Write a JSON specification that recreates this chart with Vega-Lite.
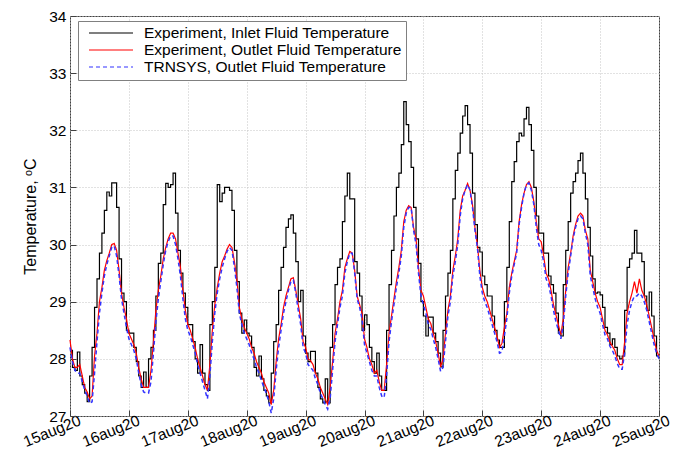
{
  "$schema": "https://vega.github.io/schema/vega-lite/v6.json",
  "width": 589,
  "height": 400,
  "autosize": {"type": "none"},
  "padding": {"left": 70, "top": 16, "right": 22, "bottom": 42},
  "background": "white",
  "config": {
    "view": {"stroke": "#404040", "strokeWidth": 1},
    "font": "Liberation Sans",
    "axis": {
      "labelFont": "Liberation Sans", "titleFont": "Liberation Sans",
      "labelColor": "#000", "titleColor": "#000",
      "domain": false, "grid": true, "gridColor": "#c4c4c4", "gridDash": [1, 2], "gridWidth": 1,
      "ticks": true, "tickSize": -6, "tickColor": "#404040"
    }
  },
  "data": {"values": [
{"h":0,"i":28.15,"o":28.33,"t":28.2},
{"h":1,"i":27.85,"o":28.0,"t":27.95},
{"h":2,"i":27.8,"o":27.85,"t":27.8},
{"h":3,"i":28.12,"o":27.85,"t":27.75},
{"h":4,"i":27.7,"o":27.9,"t":27.75},
{"h":5,"i":27.55,"o":27.7,"t":27.6},
{"h":6,"i":27.4,"o":27.5,"t":27.45},
{"h":7,"i":27.25,"o":27.42,"t":27.35},
{"h":8,"i":27.7,"o":27.3,"t":27.22},
{"h":9,"i":28.2,"o":27.35,"t":27.25},
{"h":10,"i":28.9,"o":28.05,"t":27.75},
{"h":11,"i":29.4,"o":28.45,"t":28.3},
{"h":12,"i":29.85,"o":29.0,"t":28.8},
{"h":13,"i":30.2,"o":29.25,"t":29.15},
{"h":14,"i":30.6,"o":29.55,"t":29.45},
{"h":15,"i":30.92,"o":29.72,"t":29.65},
{"h":16,"i":30.85,"o":29.85,"t":29.8},
{"h":17,"i":31.08,"o":30.0,"t":29.95},
{"h":18,"i":31.08,"o":30.02,"t":29.98},
{"h":19,"i":30.65,"o":29.9,"t":29.8},
{"h":20,"i":29.75,"o":29.55,"t":29.45},
{"h":21,"i":29.15,"o":29.15,"t":29.05},
{"h":22,"i":29.0,"o":28.9,"t":28.8},
{"h":23,"i":28.5,"o":28.7,"t":28.55},
{"h":24,"i":28.45,"o":28.45,"t":28.35},
{"h":25,"i":28.45,"o":28.35,"t":28.25},
{"h":26,"i":28.2,"o":28.25,"t":28.15},
{"h":27,"i":27.95,"o":28.1,"t":28.0},
{"h":28,"i":27.7,"o":27.85,"t":27.75},
{"h":29,"i":27.5,"o":27.65,"t":27.55},
{"h":30,"i":27.77,"o":27.5,"t":27.42},
{"h":31,"i":27.5,"o":27.5,"t":27.4},
{"h":32,"i":28.0,"o":27.5,"t":27.4},
{"h":33,"i":28.2,"o":27.8,"t":27.6},
{"h":34,"i":28.5,"o":28.3,"t":28.1},
{"h":35,"i":29.1,"o":28.85,"t":28.65},
{"h":36,"i":29.67,"o":29.2,"t":29.05},
{"h":37,"i":29.85,"o":29.45,"t":29.35},
{"h":38,"i":30.7,"o":29.75,"t":29.65},
{"h":39,"i":31.07,"o":29.95,"t":29.9},
{"h":40,"i":31.0,"o":30.1,"t":30.05},
{"h":41,"i":31.05,"o":30.2,"t":30.15},
{"h":42,"i":31.25,"o":30.2,"t":30.15},
{"h":43,"i":30.55,"o":30.1,"t":30.0},
{"h":44,"i":29.9,"o":29.85,"t":29.75},
{"h":45,"i":29.5,"o":29.6,"t":29.45},
{"h":46,"i":29.15,"o":29.2,"t":29.05},
{"h":47,"i":28.9,"o":28.85,"t":28.7},
{"h":48,"i":28.6,"o":28.6,"t":28.5},
{"h":49,"i":28.6,"o":28.5,"t":28.4},
{"h":50,"i":28.3,"o":28.35,"t":28.25},
{"h":51,"i":28.0,"o":28.2,"t":28.1},
{"h":52,"i":27.75,"o":28.0,"t":27.9},
{"h":53,"i":28.25,"o":27.85,"t":27.75},
{"h":54,"i":27.75,"o":27.7,"t":27.6},
{"h":55,"i":27.55,"o":27.55,"t":27.45},
{"h":56,"i":27.45,"o":27.45,"t":27.3},
{"h":57,"i":28.6,"o":27.9,"t":27.7},
{"h":58,"i":29.0,"o":28.5,"t":28.3},
{"h":59,"i":29.6,"o":28.95,"t":28.8},
{"h":60,"i":31.05,"o":29.25,"t":29.15},
{"h":61,"i":30.75,"o":29.5,"t":29.4},
{"h":62,"i":30.9,"o":29.7,"t":29.6},
{"h":63,"i":31.0,"o":29.8,"t":29.75},
{"h":64,"i":31.0,"o":29.92,"t":29.88},
{"h":65,"i":30.95,"o":30.0,"t":29.95},
{"h":66,"i":30.6,"o":29.95,"t":29.9},
{"h":67,"i":29.9,"o":29.7,"t":29.6},
{"h":68,"i":29.35,"o":29.4,"t":29.25},
{"h":69,"i":28.8,"o":28.9,"t":28.8},
{"h":70,"i":28.45,"o":28.7,"t":28.6},
{"h":71,"i":28.68,"o":28.55,"t":28.45},
{"h":72,"i":28.45,"o":28.45,"t":28.35},
{"h":73,"i":28.4,"o":28.35,"t":28.25},
{"h":74,"i":28.2,"o":28.2,"t":28.1},
{"h":75,"i":27.85,"o":28.1,"t":28.0},
{"h":76,"i":27.7,"o":27.95,"t":27.85},
{"h":77,"i":28.05,"o":27.85,"t":27.75},
{"h":78,"i":27.65,"o":27.75,"t":27.62},
{"h":79,"i":27.45,"o":27.6,"t":27.5},
{"h":80,"i":27.35,"o":27.5,"t":27.4},
{"h":81,"i":27.23,"o":27.4,"t":27.25},
{"h":82,"i":27.75,"o":27.2,"t":27.05},
{"h":83,"i":28.3,"o":27.45,"t":27.3},
{"h":84,"i":28.6,"o":27.95,"t":27.8},
{"h":85,"i":29.2,"o":28.35,"t":28.2},
{"h":86,"i":29.6,"o":28.6,"t":28.5},
{"h":87,"i":29.95,"o":28.9,"t":28.8},
{"h":88,"i":30.3,"o":29.1,"t":29.0},
{"h":89,"i":30.45,"o":29.25,"t":29.2},
{"h":90,"i":30.52,"o":29.4,"t":29.35},
{"h":91,"i":30.2,"o":29.42,"t":29.38},
{"h":92,"i":29.7,"o":29.2,"t":29.15},
{"h":93,"i":29.0,"o":28.95,"t":28.85},
{"h":94,"i":29.2,"o":28.7,"t":28.6},
{"h":95,"i":28.4,"o":28.3,"t":28.2},
{"h":96,"i":28.1,"o":28.2,"t":28.1},
{"h":97,"i":27.95,"o":28.0,"t":27.9},
{"h":98,"i":28.13,"o":27.97,"t":27.85},
{"h":99,"i":28.13,"o":27.9,"t":27.8},
{"h":100,"i":27.75,"o":27.75,"t":27.65},
{"h":101,"i":27.5,"o":27.65,"t":27.55},
{"h":102,"i":27.3,"o":27.5,"t":27.4},
{"h":103,"i":27.23,"o":27.4,"t":27.3},
{"h":104,"i":27.65,"o":27.3,"t":27.2},
{"h":105,"i":27.23,"o":27.2,"t":27.12},
{"h":106,"i":28.2,"o":27.5,"t":27.3},
{"h":107,"i":28.6,"o":27.95,"t":27.8},
{"h":108,"i":29.3,"o":28.45,"t":28.3},
{"h":109,"i":29.6,"o":28.7,"t":28.6},
{"h":110,"i":29.75,"o":29.0,"t":28.9},
{"h":111,"i":30.4,"o":29.2,"t":29.1},
{"h":112,"i":30.85,"o":29.6,"t":29.5},
{"h":113,"i":31.25,"o":29.75,"t":29.7},
{"h":114,"i":30.8,"o":29.88,"t":29.85},
{"h":115,"i":30.8,"o":29.85,"t":29.85},
{"h":116,"i":29.7,"o":29.55,"t":29.5},
{"h":117,"i":29.5,"o":29.1,"t":29.05},
{"h":118,"i":29.1,"o":28.95,"t":28.9},
{"h":119,"i":28.5,"o":28.8,"t":28.7},
{"h":120,"i":28.77,"o":28.35,"t":28.25},
{"h":121,"i":28.6,"o":28.2,"t":28.1},
{"h":122,"i":28.2,"o":28.0,"t":27.95},
{"h":123,"i":27.95,"o":27.9,"t":27.8},
{"h":124,"i":27.75,"o":27.75,"t":27.7},
{"h":125,"i":28.1,"o":27.8,"t":27.7},
{"h":126,"i":27.7,"o":27.6,"t":27.5},
{"h":127,"i":27.45,"o":27.45,"t":27.35},
{"h":128,"i":27.45,"o":27.45,"t":27.32},
{"h":129,"i":28.5,"o":27.9,"t":27.7},
{"h":130,"i":29.3,"o":28.45,"t":28.3},
{"h":131,"i":29.9,"o":28.75,"t":28.65},
{"h":132,"i":30.5,"o":29.05,"t":28.95},
{"h":133,"i":31.0,"o":29.35,"t":29.25},
{"h":134,"i":31.25,"o":29.6,"t":29.5},
{"h":135,"i":31.75,"o":29.9,"t":29.8},
{"h":136,"i":32.5,"o":30.4,"t":30.3},
{"h":137,"i":32.1,"o":30.6,"t":30.55},
{"h":138,"i":31.8,"o":30.68,"t":30.65},
{"h":139,"i":31.35,"o":30.65,"t":30.65},
{"h":140,"i":30.65,"o":30.3,"t":30.25},
{"h":141,"i":30.1,"o":30.1,"t":30.0},
{"h":142,"i":29.67,"o":29.6,"t":29.5},
{"h":143,"i":29.0,"o":29.2,"t":29.1},
{"h":144,"i":28.75,"o":29.1,"t":28.95},
{"h":145,"i":28.4,"o":28.9,"t":28.8},
{"h":146,"i":28.73,"o":28.7,"t":28.6},
{"h":147,"i":28.73,"o":28.62,"t":28.52},
{"h":148,"i":28.45,"o":28.45,"t":28.35},
{"h":149,"i":28.3,"o":28.3,"t":28.2},
{"h":150,"i":28.1,"o":28.1,"t":28.0},
{"h":151,"i":27.86,"o":27.86,"t":27.78},
{"h":152,"i":28.5,"o":28.0,"t":27.85},
{"h":153,"i":29.1,"o":28.45,"t":28.3},
{"h":154,"i":29.5,"o":28.85,"t":28.75},
{"h":155,"i":29.9,"o":29.1,"t":29.0},
{"h":156,"i":30.8,"o":29.55,"t":29.45},
{"h":157,"i":31.3,"o":29.8,"t":29.7},
{"h":158,"i":31.6,"o":30.1,"t":30.0},
{"h":159,"i":31.95,"o":30.6,"t":30.5},
{"h":160,"i":32.25,"o":30.85,"t":30.8},
{"h":161,"i":32.43,"o":30.95,"t":30.95},
{"h":162,"i":32.1,"o":31.07,"t":31.05},
{"h":163,"i":31.6,"o":30.95,"t":30.95},
{"h":164,"i":30.9,"o":30.7,"t":30.65},
{"h":165,"i":30.35,"o":30.3,"t":30.25},
{"h":166,"i":29.95,"o":30.0,"t":29.95},
{"h":167,"i":29.87,"o":29.55,"t":29.45},
{"h":168,"i":29.45,"o":29.25,"t":29.15},
{"h":169,"i":29.3,"o":29.1,"t":29.0},
{"h":170,"i":29.1,"o":29.0,"t":28.9},
{"h":171,"i":29.1,"o":28.85,"t":28.75},
{"h":172,"i":28.75,"o":28.7,"t":28.6},
{"h":173,"i":28.5,"o":28.55,"t":28.45},
{"h":174,"i":28.33,"o":28.4,"t":28.3},
{"h":175,"i":28.2,"o":28.2,"t":28.1},
{"h":176,"i":28.2,"o":28.27,"t":28.12},
{"h":177,"i":29.0,"o":28.55,"t":28.4},
{"h":178,"i":29.6,"o":28.8,"t":28.7},
{"h":179,"i":30.4,"o":29.25,"t":29.15},
{"h":180,"i":31.1,"o":29.5,"t":29.45},
{"h":181,"i":31.45,"o":29.7,"t":29.65},
{"h":182,"i":31.8,"o":29.9,"t":29.85},
{"h":183,"i":31.95,"o":30.4,"t":30.35},
{"h":184,"i":31.9,"o":30.7,"t":30.65},
{"h":185,"i":32.2,"o":30.9,"t":30.9},
{"h":186,"i":32.4,"o":31.05,"t":31.05},
{"h":187,"i":32.1,"o":31.1,"t":31.08},
{"h":188,"i":31.65,"o":31.0,"t":30.95},
{"h":189,"i":31.0,"o":30.75,"t":30.7},
{"h":190,"i":30.5,"o":30.4,"t":30.3},
{"h":191,"i":30.2,"o":30.1,"t":30.0},
{"h":192,"i":30.2,"o":30.05,"t":29.9},
{"h":193,"i":29.85,"o":29.8,"t":29.7},
{"h":194,"i":29.85,"o":29.5,"t":29.4},
{"h":195,"i":29.45,"o":29.4,"t":29.3},
{"h":196,"i":29.3,"o":29.2,"t":29.1},
{"h":197,"i":29.15,"o":28.95,"t":28.85},
{"h":198,"i":28.8,"o":28.77,"t":28.65},
{"h":199,"i":28.45,"o":28.6,"t":28.5},
{"h":200,"i":28.4,"o":28.42,"t":28.35},
{"h":201,"i":29.3,"o":28.7,"t":28.6},
{"h":202,"i":29.9,"o":29.2,"t":29.1},
{"h":203,"i":30.4,"o":29.6,"t":29.5},
{"h":204,"i":30.9,"o":29.85,"t":29.8},
{"h":205,"i":31.1,"o":30.15,"t":30.1},
{"h":206,"i":31.25,"o":30.35,"t":30.3},
{"h":207,"i":31.47,"o":30.5,"t":30.45},
{"h":208,"i":31.6,"o":30.55,"t":30.5},
{"h":209,"i":31.25,"o":30.5,"t":30.45},
{"h":210,"i":30.8,"o":30.25,"t":30.2},
{"h":211,"i":30.3,"o":30.1,"t":30.0},
{"h":212,"i":29.8,"o":29.55,"t":29.45},
{"h":213,"i":29.4,"o":29.35,"t":29.25},
{"h":214,"i":29.15,"o":29.15,"t":29.05},
{"h":215,"i":29.17,"o":29.0,"t":28.9},
{"h":216,"i":29.12,"o":28.9,"t":28.8},
{"h":217,"i":28.9,"o":28.7,"t":28.6},
{"h":218,"i":28.55,"o":28.5,"t":28.42},
{"h":219,"i":28.45,"o":28.42,"t":28.35},
{"h":220,"i":28.25,"o":28.3,"t":28.22},
{"h":221,"i":28.35,"o":28.22,"t":28.15},
{"h":222,"i":28.2,"o":28.15,"t":28.05},
{"h":223,"i":28.05,"o":28.0,"t":27.92},
{"h":224,"i":28.0,"o":27.9,"t":27.82},
{"h":225,"i":28.05,"o":27.9,"t":27.82},
{"h":226,"i":28.85,"o":28.3,"t":28.1},
{"h":227,"i":29.6,"o":28.8,"t":28.6},
{"h":228,"i":29.75,"o":29.0,"t":28.85},
{"h":229,"i":29.85,"o":29.15,"t":29.0},
{"h":230,"i":30.25,"o":29.35,"t":29.1},
{"h":231,"i":29.85,"o":29.15,"t":29.1},
{"h":232,"i":29.85,"o":29.4,"t":29.15},
{"h":233,"i":29.7,"o":29.2,"t":29.1},
{"h":234,"i":29.1,"o":29.1,"t":29.0},
{"h":235,"i":28.85,"o":28.95,"t":28.85},
{"h":236,"i":29.17,"o":28.75,"t":28.65},
{"h":237,"i":28.75,"o":28.55,"t":28.45},
{"h":238,"i":28.4,"o":28.35,"t":28.25},
{"h":239,"i":28.05,"o":28.15,"t":28.1},
{"h":240,"i":28.05,"o":28.05,"t":28.0}
  ]},
  "transform": [{"fold": ["i", "o", "t"], "as": ["s", "v"]}],
  "encoding": {
    "x": {
      "field": "h", "type": "quantitative",
      "scale": {"domain": [0, 240], "nice": false, "zero": false},
      "axis": {
        "values": [0, 24, 48, 72, 96, 120, 144, 168, 192, 216, 240],
        "labelExpr": "['15aug20','16aug20','17aug20','18aug20','19aug20','20aug20','21aug20','22aug20','23aug20','24aug20','25aug20'][round(datum.value/24)]",
        "labelAngle": -22, "labelAlign": "right", "labelBaseline": "top",
        "labelFontSize": 15.5, "labelPadding": 3, "labelOffset": 7, "labelFlush": false, "labelOverlap": false,
        "title": null
      }
    },
    "y": {
      "field": "v", "type": "quantitative",
      "scale": {"domain": [27, 34], "nice": false, "zero": false},
      "axis": {
        "values": [27, 28, 29, 30, 31, 32, 33, 34],
        "title": "Temperature, ᵒC", "titleFontSize": 16, "titleFontWeight": "normal",
        "labelFontSize": 15.5, "labelPadding": 10, "titlePadding": 10
      }
    },
    "color": {
      "field": "s", "type": "nominal",
      "scale": {"domain": ["i", "o", "t"], "range": ["#000000", "#ff0000", "#3333ff"]},
      "legend": {
        "orient": "none", "legendX": 8, "legendY": 5, "title": null,
        "labelExpr": "datum.value=='i'?'Experiment, Inlet Fluid Temperature':datum.value=='o'?'Experiment, Outlet Fluid Temperature':'TRNSYS, Outlet Fluid Temperature'",
        "symbolType": "stroke", "symbolSize": 1936, "symbolStrokeWidth": 1.2,
        "clipHeight": 16, "rowPadding": 0, "labelFontSize": 15.5, "labelFont": "Liberation Sans",
        "labelOffset": 10, "padding": 4, "symbolOffset": 6, "strokeColor": "#808080",
        "fillColor": "white", "labelLimit": 400, "labelColor": "#000"
      }
    },
    "strokeDash": {
      "field": "s", "type": "nominal",
      "scale": {"domain": ["i", "o", "t"], "range": [[1, 0], [1, 0], [4, 3]]},
      "legend": {
        "orient": "none", "legendX": 8, "legendY": 5, "title": null,
        "labelExpr": "datum.value=='i'?'Experiment, Inlet Fluid Temperature':datum.value=='o'?'Experiment, Outlet Fluid Temperature':'TRNSYS, Outlet Fluid Temperature'",
        "symbolType": "stroke", "symbolSize": 1936, "symbolStrokeWidth": 1.2,
        "clipHeight": 16, "rowPadding": 0, "labelFontSize": 15.5, "labelFont": "Liberation Sans",
        "labelOffset": 10, "padding": 4, "symbolOffset": 6, "strokeColor": "#808080",
        "fillColor": "white", "labelLimit": 400, "labelColor": "#000"
      }
    }
  },
  "layer": [
    {"transform": [{"filter": "datum.s=='i'"}], "mark": {"type": "line", "interpolate": "step-after", "strokeWidth": 1.2}},
    {"transform": [{"filter": "datum.s=='o'"}], "mark": {"type": "line", "strokeWidth": 1.2}},
    {"transform": [{"filter": "datum.s=='t'"}], "mark": {"type": "line", "strokeWidth": 1.5}}
  ]
}
